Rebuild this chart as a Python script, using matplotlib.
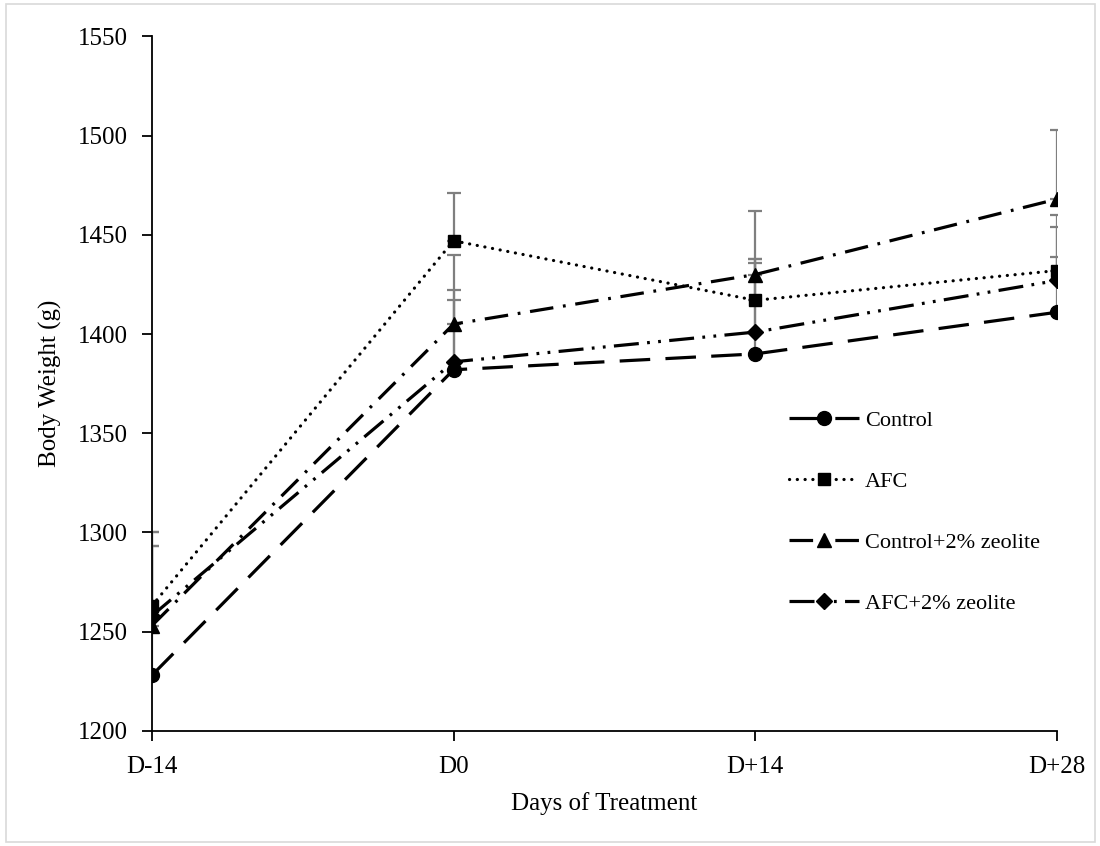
import matplotlib
matplotlib.use("Agg")
import matplotlib.pyplot as plt
from matplotlib.patches import Rectangle

plt.rcParams["font.family"] = ["Liberation Serif", "DejaVu Serif"]
plt.rcParams["font.size"] = 18
plt.rcParams["lines.scale_dashes"] = False

days = ["D-14", "D0", "D+14", "D+28"]

control = [1228, 1382, 1390, 1411]
control_err = [65, 35, 48, 28]
afc = [1263, 1447, 1417, 1432]
afc_err = [37, 24, 21, 28]
control_zeo = [1253, 1405, 1430, 1468]
control_zeo_err = [40, 35, 32, 35]
afc_zeo = [1258, 1386, 1401, 1427]
afc_zeo_err = [42, 36, 35, 27]

fig = plt.figure(figsize=(11, 8.46), dpi=100)
ax = fig.add_axes([0.138, 0.136, 0.823, 0.821])

x = list(range(len(days)))

series = [
    (control, control_err, "Control", "o", dict(dashes=(22, 11))),
    (afc, afc_err, "AFC", "s", dict(dashes=(0.1, 5.5), dash_capstyle="round")),
    (control_zeo, control_zeo_err, "Control+2% zeolite", "^", dict(dashes=(17, 7, 2, 7))),
    (afc_zeo, afc_zeo_err, "AFC+2% zeolite", "D", dict(dashes=(18, 6, 2, 6, 2, 6))),
]

msizes = {"o": 10, "s": 8, "^": 10, "D": 8}

for vals, err, label, mk, style in series:
    ax.errorbar(x, vals, yerr=[[0] * len(err), err], fmt="none", ecolor="#7f7f7f",
                elinewidth=1.6, capsize=5, capthick=1.6, zorder=2)
    ax.plot(x, vals, color="black", lw=2.3, marker=mk, markersize=msizes[mk],
            label=label, zorder=3, **style)

ax.set_xlim(0, 3)
ax.set_ylim(1200, 1550)
ax.set_yticks(range(1200, 1551, 50))
ax.set_xticks(x)
ax.set_xticklabels(days)
ax.spines["top"].set_visible(False)
ax.spines["right"].set_visible(False)
ax.spines["left"].set_linewidth(1.3)
ax.spines["bottom"].set_linewidth(1.3)
ax.tick_params(axis="both", direction="out", length=7, width=1.3, labelsize=18)
ax.tick_params(axis="x", pad=11)
ax.tick_params(axis="y", pad=10)

ax.set_xlabel("Days of Treatment", fontsize=18, labelpad=10)
ax.set_ylabel("Body Weight (g)", fontsize=18, labelpad=12)

ax.legend(loc="upper left", bbox_to_anchor=(0.692, 0.478), frameon=False,
          borderpad=0, labelspacing=1.83, handlelength=3.15, handletextpad=0.25,
          fontsize=16)

fig.patches.append(Rectangle((0.005, 0.005), 0.99, 0.99, transform=fig.transFigure,
                             fill=False, edgecolor="#d9d9d9", lw=1.2))

fig.savefig("out.png", dpi=100)
